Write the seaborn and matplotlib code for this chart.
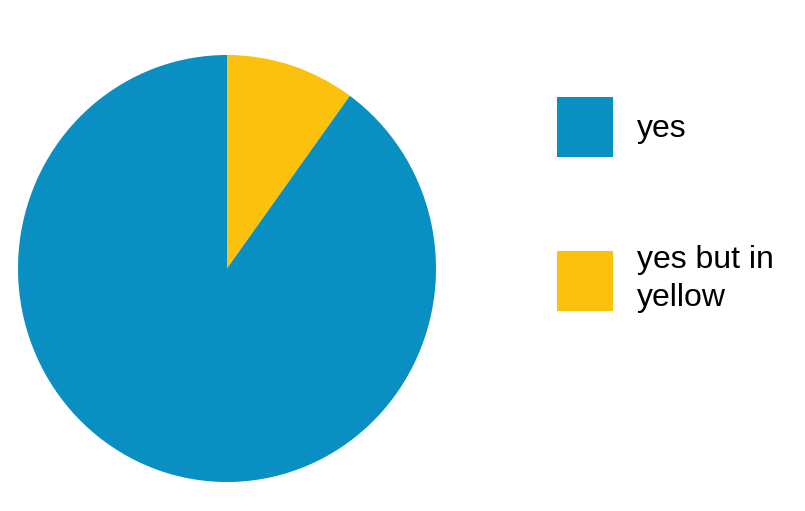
import matplotlib
matplotlib.use("Agg")
import matplotlib.pyplot as plt
import seaborn as sns

labels = ["yes", "yes but in\nyellow"]
values = [90, 10]
colors = ["#0a8fc2", "#fcc10c"]

sns.set_theme(style="white")
plt.rcParams['font.family'] = ['Liberation Sans', 'DejaVu Sans']

fig = plt.figure(figsize=(8.05, 5.11), dpi=100)
fig.patch.set_facecolor("white")
ax = fig.add_axes([18/805, (511-482)/511, 418/805, 427/511])

wedges, _ = ax.pie(values[::-1], colors=colors[::-1], startangle=90,
                   counterclock=False,
                   wedgeprops=dict(linewidth=0))
ax.set_aspect('auto')
ax.set_xlim(-1, 1)
ax.set_ylim(-1, 1)
ax.axis('off')

leg = fig.legend(wedges[::-1], labels, loc='upper left',
                 bbox_to_anchor=(557/805, 1-97/511),
                 frameon=False, fontsize=23,
                 handlelength=1.75, handleheight=2.51,
                 handletextpad=0.75, labelspacing=2.75,
                 borderpad=0, borderaxespad=0, labelcolor='black')
for t in leg.get_texts():
    t.set_linespacing(1.35)

fig.savefig("out.png", dpi=100, facecolor="white")
